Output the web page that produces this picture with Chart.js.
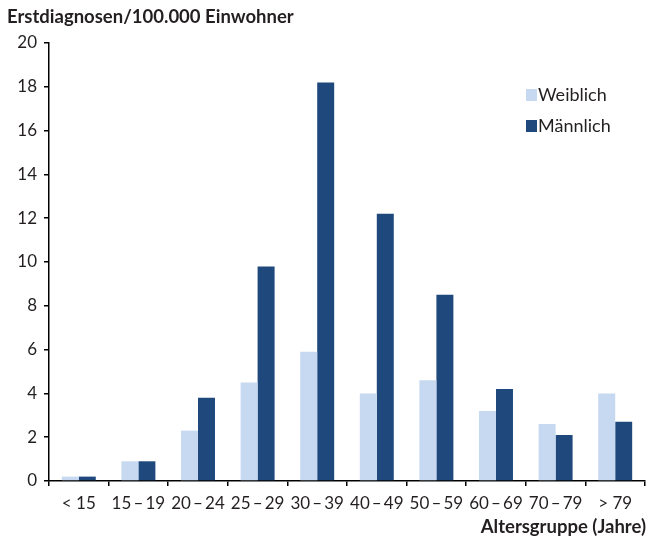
<!DOCTYPE html>
<html>
<head>
<meta charset="utf-8">
<script src="https://cdn.jsdelivr.net/npm/chart.js@4"></script>
<style>
  html, body { margin: 0; padding: 0; background: #fff; }
  #wrap { width: 649px; height: 540px; }
</style>
</head>
<body>
<div id="wrap"><canvas id="chart" width="649" height="540"></canvas></div>
<script>
// Altersgruppen und Erstdiagnosen pro 100.000 Einwohner
const categories = ['< 15', '15\u2009–\u200919', '20\u2009–\u200924', '25\u2009–\u200929', '30\u2009–\u200939', '40\u2009–\u200949', '50\u2009–\u200959', '60\u2009–\u200969', '70\u2009–\u200979', '> 79'];
const weiblich = [0.2, 0.9, 2.3, 4.5, 5.9, 4.0, 4.6, 3.2, 2.6, 4.0];
const maennlich = [0.2, 0.9, 3.8, 9.8, 18.2, 12.2, 8.5, 4.2, 2.1, 2.7];
const yTicks = [0, 2, 4, 6, 8, 10, 12, 14, 16, 18, 20];

const fontFamily = 'Lato, "Open Sans", sans-serif';
const textColor = '#231f20';

// Titles and legend drawn by hand
const extras = {
  id: 'extras',
  afterDraw(chart) {
    const ctx = chart.ctx;
    ctx.save();
    ctx.fillStyle = textColor;
    ctx.font = 'bold 18.5px ' + fontFamily;
    ctx.textBaseline = 'alphabetic';
    ctx.textAlign = 'left';
    ctx.fillText('Erstdiagnosen/100.000 Einwohner', 7, 23);
    ctx.textAlign = 'right';
    ctx.fillText('Altersgruppe (Jahre)', 646, 533);

    ctx.font = '18px ' + fontFamily;
    ctx.textAlign = 'left';
    ctx.textBaseline = 'middle';
    chart.data.datasets.forEach((ds, i) => {
      const y = 95 + i * 31;
      ctx.fillStyle = ds.backgroundColor;
      ctx.fillRect(526, y - 6, 11, 12);
      ctx.fillStyle = textColor;
      ctx.fillText(ds.label, 538, y);
    });
    ctx.restore();
  }
};

new Chart(document.getElementById('chart'), {
  type: 'bar',
  data: {
    labels: categories,
    datasets: [
      { label: 'Weiblich', data: weiblich, backgroundColor: '#c6d9f0' },
      { label: 'Männlich', data: maennlich, backgroundColor: '#1f497d' }
    ]
  },
  options: {
    responsive: false,
    animation: false,
    layout: { padding: { top: 43, right: 4, bottom: 0, left: 0 } },
    datasets: { bar: { categoryPercentage: 0.57, barPercentage: 1.0 } },
    plugins: { legend: { display: false }, tooltip: { enabled: false } },
    scales: {
      x: {
        afterFit(scale) { scale.height = 59; },
        border: { color: '#000', width: 1.5 },
        grid: { offset: true, drawOnChartArea: false, tickLength: 5, color: '#000', lineWidth: 1.5 },
        ticks: { color: textColor, font: { size: 17, family: fontFamily }, padding: 7, maxRotation: 0, autoSkip: false }
      },
      y: {
        min: 0,
        max: 20,
        afterFit(scale) { scale.width = 49; },
        afterBuildTicks(scale) { scale.ticks = yTicks.map(v => ({ value: v })); },
        border: { color: '#000', width: 1.5 },
        grid: { drawOnChartArea: false, tickLength: 5, color: '#000', lineWidth: 1.5 },
        ticks: { color: textColor, font: { size: 17, family: fontFamily }, padding: 7 }
      }
    }
  },
  plugins: [extras]
});
</script>
</body>
</html>
